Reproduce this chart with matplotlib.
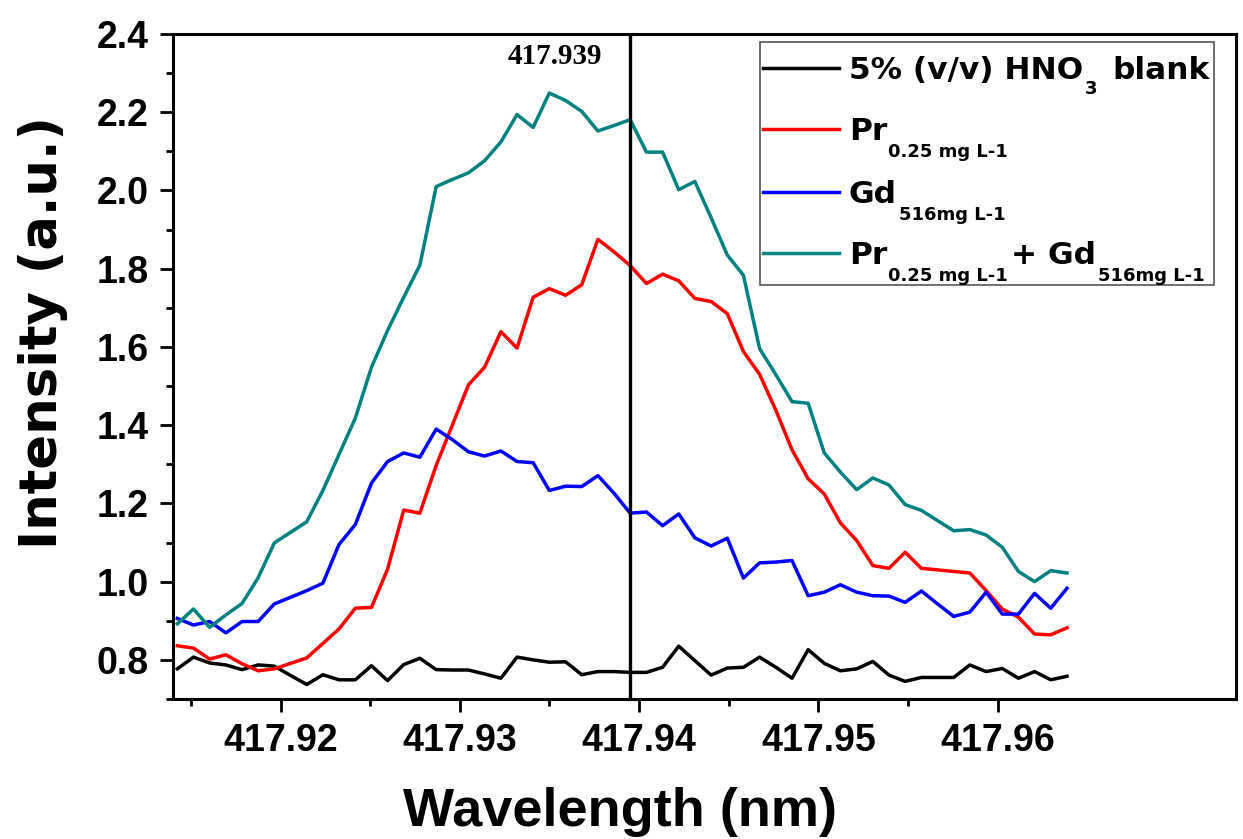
import matplotlib
matplotlib.use("Agg")
import matplotlib.pyplot as plt
import matplotlib.transforms as mtransforms
from matplotlib.patches import Rectangle
from matplotlib.ticker import FixedLocator, MultipleLocator

# wavelength grid of the spectrometer (nm)
wavelength = [
    417.91424, 417.91514, 417.91604, 417.91695, 417.91785, 417.91875, 417.91965,
    417.92056, 417.92146, 417.92236, 417.92326, 417.92417, 417.92507, 417.92597,
    417.92687, 417.92777, 417.92868, 417.92958, 417.93048, 417.93138, 417.93229,
    417.93319, 417.93409, 417.93499, 417.93590, 417.93680, 417.93770, 417.93860,
    417.93950, 417.94041, 417.94131, 417.94221, 417.94311, 417.94402, 417.94492,
    417.94582, 417.94672, 417.94763, 417.94853, 417.94943, 417.95033, 417.95123,
    417.95214, 417.95304, 417.95394, 417.95484, 417.95575, 417.95665, 417.95755,
    417.95845, 417.95936, 417.96026, 417.96116, 417.96206, 417.96296, 417.96387,
]

blank = [
    0.777, 0.807, 0.792, 0.787, 0.775, 0.787, 0.784, 0.760, 0.737, 0.762,
    0.749, 0.749, 0.785, 0.747, 0.788, 0.804, 0.775, 0.774, 0.774, 0.764,
    0.753, 0.807, 0.800, 0.794, 0.795, 0.762, 0.770, 0.770, 0.768, 0.768,
    0.781, 0.835, 0.798, 0.761, 0.779, 0.781, 0.807, 0.781, 0.753, 0.826,
    0.791, 0.772, 0.777, 0.796, 0.761, 0.745, 0.755, 0.755, 0.755, 0.787,
    0.770, 0.778, 0.753, 0.770, 0.749, 0.758,
]

pr = [
    0.836, 0.830, 0.802, 0.813, 0.790, 0.772, 0.777, 0.791, 0.805, 0.842,
    0.879, 0.932, 0.934, 1.032, 1.183, 1.175, 1.297, 1.400, 1.503, 1.548,
    1.639, 1.597, 1.727, 1.749, 1.732, 1.759, 1.875, 1.843, 1.808, 1.762,
    1.786, 1.769, 1.724, 1.716, 1.685, 1.588, 1.530, 1.438, 1.337, 1.263,
    1.224, 1.150, 1.105, 1.041, 1.034, 1.075, 1.034, 1.030, 1.026, 1.022,
    0.977, 0.930, 0.909, 0.866, 0.864, 0.882,
]

gd = [
    0.906, 0.889, 0.898, 0.869, 0.898, 0.898, 0.943, 0.960, 0.977, 0.996,
    1.095, 1.146, 1.252, 1.307, 1.329, 1.318, 1.390, 1.363, 1.332, 1.321,
    1.334, 1.307, 1.304, 1.233, 1.244, 1.243, 1.271, 1.226, 1.175, 1.178,
    1.143, 1.173, 1.112, 1.091, 1.111, 1.009, 1.048, 1.050, 1.054, 0.964,
    0.973, 0.992, 0.973, 0.964, 0.963, 0.947, 0.976, 0.943, 0.911, 0.922,
    0.973, 0.917, 0.917, 0.970, 0.932, 0.983,
]

pr_gd = [
    0.892, 0.930, 0.883, 0.915, 0.944, 1.010, 1.099, 1.126, 1.153, 1.233,
    1.325, 1.418, 1.548, 1.642, 1.727, 1.809, 2.010, 2.028, 2.045, 2.076,
    2.124, 2.194, 2.161, 2.249, 2.230, 2.202, 2.152, 2.166, 2.181, 2.098,
    2.098, 2.002, 2.023, 1.930, 1.835, 1.783, 1.596, 1.529, 1.460, 1.456,
    1.329, 1.280, 1.235, 1.265, 1.247, 1.197, 1.182, 1.156, 1.130, 1.133,
    1.119, 1.088, 1.026, 1.000, 1.028, 1.022,
]

peak_line = 417.9395
peak_text = "417.939"

x_major = [417.92, 417.93, 417.94, 417.95, 417.96]
x_minor = [417.915, 417.925, 417.935, 417.945, 417.955]

colors = ["black", "#ff0000", "#0000ff", "#008080"]
# legend entries as (text, size, drop in px, gap before in px) pieces
MAIN, SUB = 22.5, 13
legend_rows = [
    [("5% (v/v) HNO", MAIN, 0, 0), ("3", SUB, 15, 2), ("blank", MAIN, 0, 15)],
    [("Pr", MAIN, 0, 0), ("0.25 mg L-1", SUB, 17, 1)],
    [("Gd", MAIN, 0, 0), ("516mg L-1", SUB, 17, 2)],
    [("Pr", MAIN, 0, 0), ("0.25 mg L-1", SUB, 17, 1), ("+ Gd", MAIN, 0, 3),
     ("516mg L-1", SUB, 17, 2)],
]

plt.rcParams["font.family"] = ["Liberation Sans", "DejaVu Sans"]
plt.rcParams["font.weight"] = "bold"

fig = plt.figure(figsize=(12.43, 8.39), dpi=100)
ax = fig.add_axes([0.1392, 0.1669, 0.8552, 0.7926])

for series, c in zip([blank, pr, gd, pr_gd], colors):
    ax.plot(wavelength, series, color=c, lw=2.5)

ax.axvline(peak_line, color="black", lw=2.4)
ax.text(417.9353, 2.324, peak_text, family="Liberation Serif", fontsize=21,
        fontweight="bold", ha="center", va="baseline")

ax.set_xlim(417.914, 417.9733)
ax.set_ylim(0.7, 2.4)
ax.xaxis.set_major_locator(FixedLocator(x_major))
ax.xaxis.set_minor_locator(FixedLocator(x_minor))
ax.yaxis.set_major_locator(MultipleLocator(0.2))
ax.yaxis.set_minor_locator(MultipleLocator(0.1))
ax.xaxis.set_major_formatter(plt.FuncFormatter(lambda v, p: f"{v:.2f}"))
ax.yaxis.set_major_formatter(plt.FuncFormatter(lambda v, p: f"{v:.1f}"))

for s in ax.spines.values():
    s.set_linewidth(2.2)
ax.tick_params(which="both", direction="out", width=2, labelsize=27, pad=8)
ax.tick_params(which="major", length=9.5)
ax.tick_params(which="minor", length=5)

ax.set_xlabel("Wavelength (nm)", fontsize=39, fontweight="bold", va="baseline")
ax.xaxis.set_label_coords(0.4205, -0.191)
ax.set_ylabel("Intensity (a.u.)", family="DejaVu Sans", fontsize=37,
              fontweight="bold")
ax.yaxis.set_label_coords(-0.0987, 0.5504)

# legend box drawn by hand so the subscripts sit like in Origin
ax.add_patch(Rectangle((0.5522, 0.6226), 0.4271, 0.3654, transform=ax.transAxes,
                       facecolor="white", edgecolor="#555555", lw=1.2, zorder=5))
renderer = fig.canvas.get_renderer()
row_y = [0.9484, 0.8567, 0.7629, 0.6702]
for c, y, pieces in zip(colors, row_y, legend_rows):
    ax.plot([0.5550, 0.6265], [y, y], transform=ax.transAxes, color=c,
            lw=2.5, zorder=6, clip_on=False)
    dx = 0.0
    for text, size, drop, gap in pieces:
        dx += gap
        tr = mtransforms.offset_copy(ax.transAxes, fig=fig, x=dx, y=-11 - drop,
                                     units="dots")
        t = ax.text(0.6359, y, text, transform=tr, fontsize=size,
                    family="DejaVu Sans", fontweight="bold", ha="left",
                    va="baseline", zorder=6)
        dx += t.get_window_extent(renderer).width

fig.savefig("out.png", dpi=100)
